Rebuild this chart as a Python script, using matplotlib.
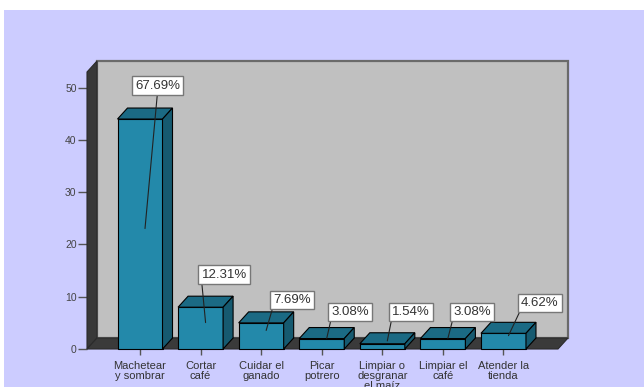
import matplotlib
matplotlib.use("Agg")
import matplotlib.pyplot as plt
from matplotlib.patches import Polygon, Rectangle

plt.rcParams['font.family'] = ['Liberation Sans', 'DejaVu Sans']

# Activities and number of respondents
categories = ["Machetear\ny sombrar", "Cortar\ncafé", "Cuidar el\nganado", "Picar\npotrero",
              "Limpiar o\ndesgranar\nel maíz", "Limpiar el\ncafé", "Atender la\ntienda"]
counts = [44, 8, 5, 2, 1, 2, 3]
percent_labels = ["67.69%", "12.31%", "7.69%", "3.08%", "1.54%", "3.08%", "4.62%"]
y_ticks = [0, 10, 20, 30, 40, 50]

# label box placement relative to each bar (data units) and leader anchor on the box
label_offsets = [(0.29, 6.4), (0.39, 6.2), (0.51, 4.4), (0.47, 5.1), (0.47, 6.1), (0.48, 5.1), (0.60, 5.8)]
leader_anchor = [(0.5, 0.0)] + [(0.0, 0.0)] * 6

W, H = 644, 387
fig = plt.figure(figsize=(W / 100, H / 100), dpi=100)
fig.patch.set_facecolor("white")
fig.patches.append(Rectangle((4 / W, 0), 1, (H - 10) / H, transform=fig.transFigure,
                             facecolor="#CCCCFF", edgecolor="none", zorder=-10))

ax = fig.add_axes([87 / W, (H - 349) / H, (558 - 87) / W, (349 - 72) / H])
ax.set_facecolor("none")
x0, x1 = -0.875, 6.9
ymax = 53
ax.set_xlim(x0, x1)
ax.set_ylim(0, ymax)
for s in ax.spines.values():
    s.set_visible(False)

dx, dy = 0.165, 2.105  # depth of the 3D frame

# back wall, left wall and floor
ax.add_patch(Rectangle((x0 + dx, dy), x1 - x0, ymax, facecolor="#C0C0C0",
                       edgecolor="#6A6A6A", lw=1.6, clip_on=False, zorder=1))
ax.add_patch(Polygon([(x0, 0), (x0, ymax), (x0 + dx, ymax + dy), (x0 + dx, dy)],
                     closed=True, facecolor="#383838", edgecolor="#2A2A2A", lw=0.8,
                     clip_on=False, zorder=2))
ax.add_patch(Polygon([(x0, 0), (x1, 0), (x1 + dx, dy), (x0 + dx, dy)],
                     closed=True, facecolor="#3A3A3A", edgecolor="#2A2A2A", lw=0.8,
                     clip_on=False, zorder=2))

front_c, top_c, side_c = "#2389AA", "#1B6A84", "#165A70"
bw = 0.743
xs = list(range(len(counts)))
ax.bar(xs, counts, width=bw, color=front_c, edgecolor="black", lw=0.8, zorder=4, clip_on=False)
for x, v in zip(xs, counts):
    l, r = x - bw / 2, x + bw / 2
    ax.add_patch(Polygon([(l, v), (r, v), (r + dx, v + dy), (l + dx, v + dy)], closed=True,
                         facecolor=top_c, edgecolor="black", lw=0.8, zorder=4, clip_on=False))
    ax.add_patch(Polygon([(r, 0), (r + dx, dy), (r + dx, v + dy), (r, v)], closed=True,
                         facecolor=side_c, edgecolor="black", lw=0.8, zorder=4, clip_on=False))

for x, v, txt, (ox, oy), rp in zip(xs, counts, percent_labels, label_offsets, leader_anchor):
    ax.annotate(txt, xy=(x + dx / 2, v / 2 + dy / 2), xytext=(x + ox, v + oy),
                ha="center", va="center", fontsize=9.5, color="#333333", zorder=6,
                bbox=dict(boxstyle="square,pad=0.25", fc="white", ec="#777777", lw=1),
                arrowprops=dict(arrowstyle="-", color="#222222", lw=0.8, relpos=rp,
                                shrinkA=0, shrinkB=0),
                annotation_clip=False)

ax.set_yticks(y_ticks)
ax.set_yticklabels([str(t) for t in y_ticks])
ax.tick_params(axis="y", length=6.5, width=1, color="#555555", labelsize=7.5,
               labelcolor="#444444", pad=1)
ax.set_xticks(xs)
ax.set_xticklabels(categories, linespacing=1.0)
ax.tick_params(axis="x", length=4, width=1, color="#555555", labelsize=8,
               labelcolor="#333333", pad=4.5)

fig.savefig("out.png", dpi=100)
